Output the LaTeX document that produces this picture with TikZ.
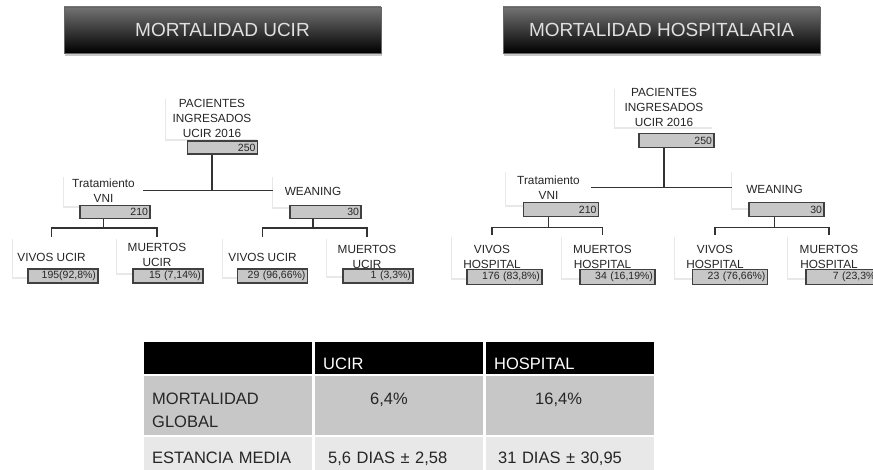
\documentclass[tikz,border=0pt]{standalone}
\usepackage{fontspec}
\setmainfont{Liberation Sans}
\usetikzlibrary{matrix,shadows}

\begin{document}
\begin{tikzpicture}[x=1pt,y=-1pt,
	titulo/.style={draw=black!60, top color=black!55, bottom color=black, minimum width=317pt, minimum height=46pt,
		text=white!88!black, font=\fontsize{19}{22}\selectfont,
		general shadow={fill=black!22, shadow xshift=1pt, shadow yshift=-3pt}},
	caja/.style={fill=white, inner sep=0pt, align=center, text=black!85, font=\fontsize{11.8}{15}\selectfont,
		general shadow={fill=black!9, shadow xshift=-1.5pt, shadow yshift=-2pt}},
	barra/.style={draw=black!75, line width=1.3pt, fill=black!22, inner sep=2pt, minimum height=13pt,
		align=right, text width=#1, text=black!85, font=\fontsize{10.5}{11}\selectfont},
	barra/.default=66pt,
	linea/.style={draw=black!80, line width=1.3pt}]
	\useasboundingbox (0,0) rectangle (873,470);
	\clip (0,0) rectangle (873,470);

	\node[titulo] (tucir) at (222.5,30) {MORTALIDAD UCIR};
	\node[titulo] (thosp) at (661.5,30) {MORTALIDAD HOSPITALARIA};

	% UCIR
	\node[caja, minimum width=92pt, minimum height=42pt] (uroot) at (212,118) {PACIENTES\\INGRESADOS\\UCIR 2016};
	\node[caja, minimum width=79pt, minimum height=31pt] (uvni) at (103.5,190.5) {Tratamiento\\VNI};
	\node[caja, minimum width=80pt, minimum height=32pt] (uwean) at (313,191) {WEANING};
	\node[caja, minimum width=77pt, minimum height=40pt] (uvivos) at (51.5,257) {VIVOS UCIR};
	\node[caja, minimum width=80pt, minimum height=36pt] (umuertos) at (157,255) {MUERTOS\\UCIR};
	\node[caja, minimum width=79pt, minimum height=40pt] (uvivosw) at (262.5,257) {VIVOS UCIR};
	\node[caja, minimum width=80pt, minimum height=39pt] (umuertosw) at (367,256.5) {MUERTOS\\UCIR};

	\node[barra] (urootn) at (222.5,147.5) {250};
	\node[barra] (uvnin) at (115,212) {210};
	\node[barra=67pt] (uweann) at (325.5,212) {30};
	\node[barra] (uvivosn) at (63,276) {195(92,8\%)};
	\node[barra] (umuertosn) at (168,276) {15 (7,14\%)};
	\node[barra] (uvivoswn) at (272.5,276) {29 (96,66\%)};
	\node[barra] (umuertoswn) at (378,276) {1 (3,3\%)};

	\draw[linea] (uroot |- urootn.south) -- (uroot |- uvni.east) (uvni.east) -- (uvni.east -| uwean.west);
	\draw[linea] (uvni |- uvnin.south) -- ++(0,9) -| (uvivos.north) (uvni |- uvnin.south) ++(0,9) -| (umuertos.north);
	\draw[linea] (uwean |- uweann.south) -- ++(0,9) -| (uvivosw.north) (uwean |- uweann.south) ++(0,9) -| (umuertosw.north);

	% HOSPITAL
	\node[caja, minimum width=98pt, minimum height=40pt] (hroot) at (664,107) {PACIENTES\\INGRESADOS\\UCIR 2016};
	\node[caja, minimum width=85pt, minimum height=35pt] (hvni) at (548.5,187.5) {Tratamiento\\VNI};
	\node[caja, minimum width=85pt, minimum height=38pt] (hwean) at (774.5,189) {WEANING};
	\node[caja, minimum width=80pt, minimum height=43pt] (hvivos) at (492,256.5) {VIVOS\\HOSPITAL};
	\node[caja, minimum width=81pt, minimum height=43pt] (hmuertos) at (602.5,256.5) {MUERTOS\\HOSPITAL};
	\node[caja, minimum width=80pt, minimum height=43pt] (hvivosw) at (715,256.5) {VIVOS\\HOSPITAL};
	\node[caja, minimum width=82pt, minimum height=43pt] (hmuertosw) at (829,256.5) {MUERTOS\\HOSPITAL};

	\node[barra=71pt, minimum height=14.5pt] (hrootn) at (676.5,140.5) {250};
	\node[barra=71pt, minimum height=14.5pt] (hvnin) at (561,209.5) {210};
	\node[barra=71pt, minimum height=14.5pt] (hweann) at (786.5,209.5) {30};
	\node[barra=71pt, minimum height=14.5pt] (hvivosn) at (504.5,277) {176 (83,8\%)};
	\node[barra=71pt, minimum height=14.5pt] (hmuertosn) at (617.5,277) {34 (16,19\%)};
	\node[barra=71pt, minimum height=14.5pt] (hvivoswn) at (730,277) {23 (76,66\%)};
	\node[barra=71pt, minimum height=14.5pt] (hmuertoswn) at (843.5,277) {7 (23,3\%)};

	\draw[linea] (hroot |- hrootn.south) -- (hroot |- hvni.east) (hvni.east) -- (hvni.east -| hwean.west);
	\draw[linea] (hvni |- hvnin.south) -- ++(0,10) -| (hvivos.north) (hvni |- hvnin.south) ++(0,10) -| (hmuertos.north);
	\draw[linea] (hwean |- hweann.south) -- ++(0,10) -| (hvivosw.north) (hwean |- hweann.south) ++(0,10) -| (hmuertosw.north);

	% tabla
	\matrix (tabla) [matrix of nodes, nodes in empty cells, anchor=north west, inner sep=0pt, column sep=3pt, row sep=2pt,
		nodes={text width=152pt, inner xsep=8pt, inner ysep=4pt, align=left, text=black!85, font=\fontsize{16.5}{23}\selectfont},
		row 1/.style={nodes={fill=black, text=white, text height=23pt, text depth=1pt}},
		row 2/.style={nodes={fill=black!22, text height=24pt, text depth=27pt}},
		row 3/.style={nodes={fill=black!9, text height=22pt, text depth=11pt}}] at (144,342) {
		& UCIR & HOSPITAL \\
		MORTALIDAD\newline GLOBAL & \hspace*{47pt}6,4\% & \hspace*{41pt}16,4\% \\
		ESTANCIA MEDIA & \hspace*{5pt}5,6 DIAS ± 2,58 & \hspace*{4pt}31 DIAS ± 30,95 \\
	};
\end{tikzpicture}
\end{document}
